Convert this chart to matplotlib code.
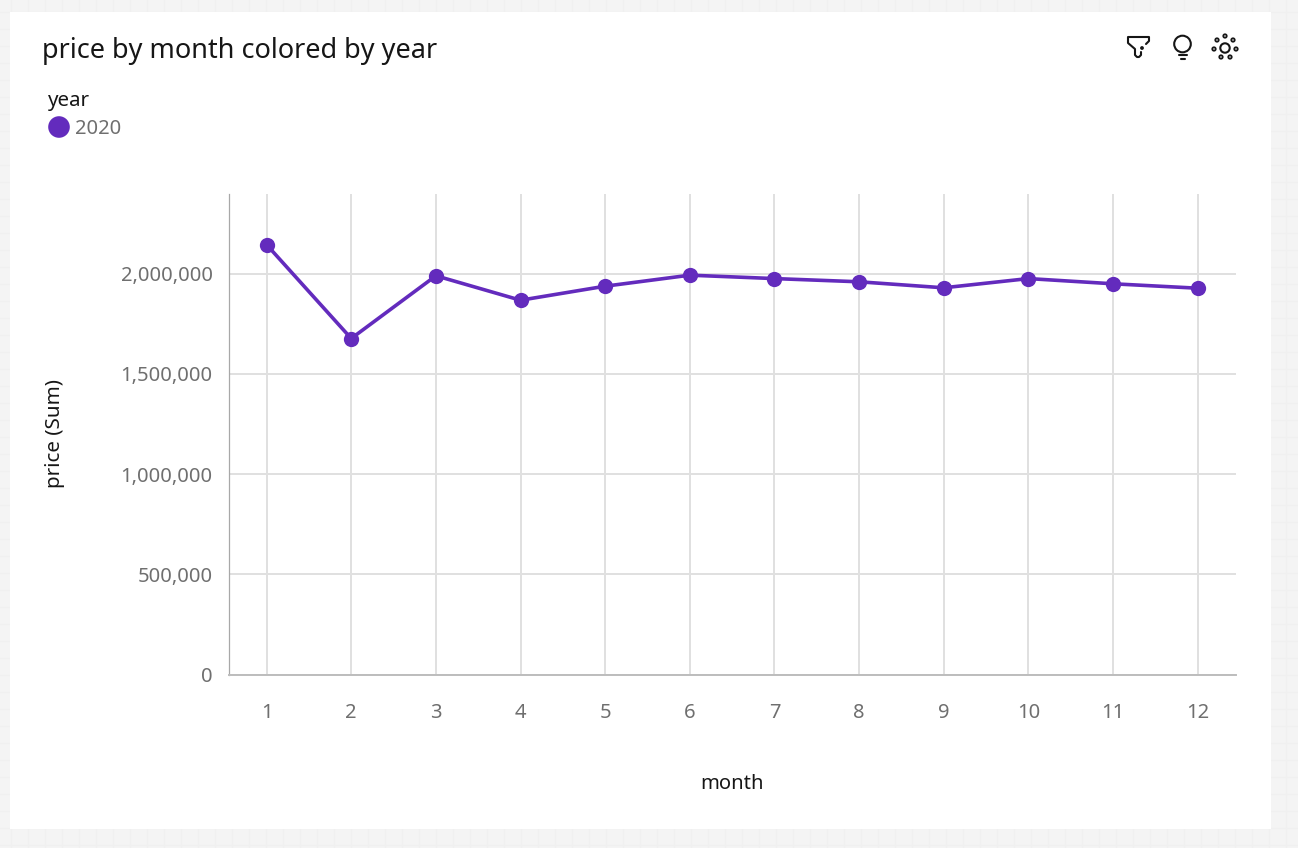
import matplotlib
matplotlib.use('Agg')
import matplotlib.pyplot as plt
from matplotlib.patches import Rectangle, Circle
from matplotlib.ticker import FuncFormatter

W, H = 1298, 848

months = [1, 2, 3, 4, 5, 6, 7, 8, 9, 10, 11, 12]
price = [2145000, 1677000, 1990000, 1868000, 1938000, 1993000,
         1976000, 1960000, 1930000, 1976000, 1950000, 1928000]
y_ticks = [0, 500000, 1000000, 1500000, 2000000]
series_name = '2020'

PURPLE = '#632bbd'
GRID = '#e0e0e0'
DARK = '#161616'
GREY = '#6f6f6f'
FONT = 'Noto Sans'

plt.rcParams['font.family'] = FONT


def px_axes(fig, left, top, right, bottom):
    # axes placed with pixel coords measured from the top left
    return fig.add_axes([left / W, 1 - bottom / H, (right - left) / W, (bottom - top) / H])


fig = plt.figure(figsize=(W / 100, H / 100), dpi=100, facecolor='#f4f4f4')

# page background + white card
bg = fig.add_axes([0, 0, 1, 1], zorder=0)
bg.set_xlim(0, W)
bg.set_ylim(H, 0)
bg.axis('off')
for x in range(11, W, 17):
    bg.plot([x, x], [0, H], color='#f0f0f0', lw=1)
for y in range(12, H, 17):
    bg.plot([0, W], [y, y], color='#f0f0f0', lw=1)
bg.add_patch(Rectangle((10, 12), 1261, 817, facecolor='white', edgecolor='none', zorder=3))

# title / legend / axis titles
bg.text(42, 51, 'price by month colored by year', fontsize=19.55, color=DARK, va='center', zorder=4)
bg.text(48, 101, 'year', fontsize=14.8, color=DARK, va='center', zorder=4)
bg.add_patch(Circle((59, 127), 10.8, facecolor=PURPLE, edgecolor='none', zorder=4))
bg.text(75, 128.5, series_name, fontsize=14.5, color=GREY, va='center', zorder=4)
bg.text(55, 434, 'price (Sum)', fontsize=14.8, color=DARK, rotation=90, ha='center', va='center', zorder=4)
bg.text(732, 784, 'month', fontsize=14.5, color=DARK, ha='center', va='center', zorder=4)

# toolbar icons
ic = dict(color=DARK, lw=1.5, zorder=4, solid_capstyle='round', solid_joinstyle='round')
bg.plot([1146, 1149, 1149, 1128, 1128, 1135, 1135, 1137, 1139, 1141, 1141],
        [44, 41, 37, 37, 43, 49, 55, 57, 57, 55, 52], **ic)
bg.add_patch(Circle((1142, 48), 1.9, facecolor=DARK, edgecolor='none', zorder=5))
bg.add_patch(Circle((1182.5, 44), 8.3, facecolor='none', edgecolor=DARK, lw=1.5, zorder=4))
bg.plot([1178.5, 1187], [55, 55], **ic)
bg.plot([1180.5, 1185], [59, 59], **ic)
bg.add_patch(Circle((1225, 48), 4.7, facecolor='none', edgecolor=DARK, lw=1.5, zorder=4))
for cx, cy in [(1225, 36), (1233, 40), (1236, 49), (1230, 57), (1221, 57), (1214, 49), (1217, 40)]:
    bg.add_patch(Circle((cx, cy), 1.7, facecolor='none', edgecolor=DARK, lw=1.3, zorder=4))

# main chart
ax = px_axes(fig, 228.6, 193.6, 1235.6, 674.6)
ax.patch.set_alpha(0)
ax.set_zorder(5)
ax.set_xlim(0.551, 12.449)
ax.set_ylim(0, 2400000)
ax.set_xticks(months)
ax.set_yticks(y_ticks)
ax.yaxis.set_major_formatter(FuncFormatter(lambda v, _: f'{int(v):,}'))
ax.grid(True, color=GRID, lw=1.4)
ax.set_axisbelow(True)
for s in ['top', 'right']:
    ax.spines[s].set_visible(False)
ax.spines['left'].set_color('#a8a8a8')
ax.spines['left'].set_linewidth(0.9)
ax.spines['bottom'].set_color('#bdbdbd')
ax.spines['bottom'].set_linewidth(1.4)
ax.tick_params(length=0, labelsize=14.5, labelcolor=GREY)
ax.tick_params(axis='x', pad=20.5)
ax.tick_params(axis='y', pad=11.5)

ax.plot(months, price, color=PURPLE, lw=2.6, marker='o', ms=11, mec='none', clip_on=False, zorder=3)

fig.savefig('out.png', dpi=100, facecolor=fig.get_facecolor())
